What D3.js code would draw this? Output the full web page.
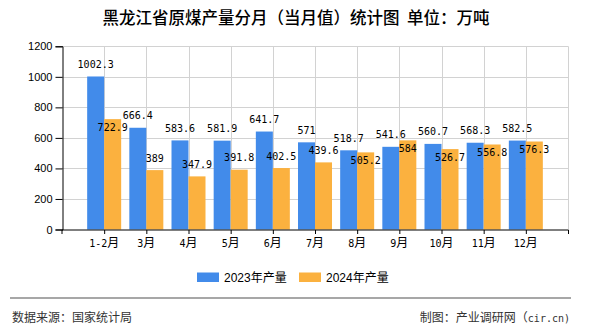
<!DOCTYPE html>
<html>
<head>
<meta charset="utf-8">
<script src="https://cdn.jsdelivr.net/npm/d3@7"></script>
<style>
  html, body { margin: 0; padding: 0; background: #fff; }
  svg { display: block; }
</style>
</head>
<body>
<svg id="chart" width="590" height="330"></svg>
<script>
const categories = ["1-2月", "3月", "4月", "5月", "6月", "7月", "8月", "9月", "10月", "11月", "12月"];
const values2023 = [1002.3, 666.4, 583.6, 581.9, 641.7, 571, 518.7, 541.6, 560.7, 568.3, 582.5];
const values2024 = [722.9, 389, 347.9, 391.8, 402.5, 439.6, 505.2, 584, 526.7, 556.8, 576.3];
const seriesNames = ["2023年产量", "2024年产量"];
const yTicks = [0, 200, 400, 600, 800, 1000, 1200];
const titleText = "黑龙江省原煤产量分月（当月值）统计图\u00a0\u00a0单位：万吨";
const sourceText = "数据来源：国家统计局";

const colors = ["#428BEA", "#FBB13F"];
const svg = d3.select("#chart");
const L = 62, R = 568, T = 46.3, B = 229.5;
const barW = 17;
const mono = "'DejaVu Sans Mono', monospace";
const cjk = "'Noto Sans CJK SC', sans-serif";

const x = d3.scalePoint().domain(categories).range([L, R]).padding(1);
const y = d3.scaleLinear().domain([0, 1200]).range([B, T]);

// grid
const grid = svg.append("g").attr("stroke", "#d2d2d2").attr("stroke-width", 1);
yTicks.filter(d => d > 0).forEach(t => {
  grid.append("line").attr("x1", L).attr("x2", R).attr("y1", Math.round(y(t)) + 0.5).attr("y2", Math.round(y(t)) + 0.5);
});
categories.forEach(c => {
  grid.append("line").attr("x1", Math.round(x(c)) + 0.5).attr("x2", Math.round(x(c)) + 0.5).attr("y1", T).attr("y2", B);
});
grid.append("line").attr("x1", R + 0.5).attr("x2", R + 0.5).attr("y1", T).attr("y2", B);

// bars
const bars = svg.append("g");
bars.selectAll("rect.b23").data(values2023).join("rect")
  .attr("x", (d, i) => x(categories[i]) - barW)
  .attr("y", d => y(d)).attr("width", barW).attr("height", d => B - y(d))
  .attr("fill", colors[0]);
bars.selectAll("rect.b24").data(values2024).join("rect")
  .attr("x", (d, i) => x(categories[i]))
  .attr("y", d => y(d)).attr("width", barW).attr("height", d => B - y(d))
  .attr("fill", colors[1]);

// axes
const yAxis = d3.axisLeft(y).tickValues(yTicks).tickSize(7).tickPadding(3).tickFormat(d3.format("d"));
const gy = svg.append("g").attr("transform", `translate(${L + 0.5},0)`).call(yAxis);
gy.select(".domain").attr("stroke", "#000");
gy.selectAll(".tick line").attr("stroke", "#000");
gy.selectAll(".tick text").attr("font-family", "'Liberation Sans', Arial, sans-serif").attr("font-size", 11).attr("fill", "#000");

const xAxis = d3.axisBottom(x).tickSize(4).tickPadding(5).tickFormat("");
const gx = svg.append("g").attr("transform", `translate(0,${B + 0.5})`).call(xAxis);
gx.select(".domain").attr("stroke", "#000").attr("d", `M${L},4V0H${R + 0.5}V4`);
gx.selectAll(".tick line").attr("stroke", "#000");
// category labels
categories.forEach(c => {
  const m = c.match(/^(.*?)(月)$/);
  const t = svg.append("text").attr("x", x(c)).attr("y", 246.5).attr("text-anchor", "middle").attr("fill", "#000");
  t.append("tspan").attr("font-family", mono).attr("font-size", 10).text(m[1]);
  t.append("tspan").attr("font-family", cjk).attr("font-size", 12).text(m[2]);
});

// value labels
const fmt = v => String(v);
const charW = 6.02;
const boxes = values2023.map((v, i) => {
  const cx = x(categories[i]) - barW / 2;
  const base = y(v) - 8.5;
  const w = fmt(v).length * charW;
  return { cx, base, x0: cx - w / 2, x1: cx + w / 2, y0: base - 10, y1: base + 2, v };
});
const labels = svg.append("g").attr("font-family", mono).attr("font-size", 10).attr("fill", "#000").attr("text-anchor", "middle");
boxes.forEach(b => labels.append("text").attr("x", b.cx).attr("y", b.base).text(fmt(b.v)));
values2024.forEach((v, i) => {
  const cx = x(categories[i]) + barW / 2;
  const w = fmt(v).length * charW;
  let base = y(v) - 8.5;
  const bx0 = cx - w / 2, bx1 = cx + w / 2, by0 = base - 10, by1 = base + 2;
  const hit = boxes.some(b => bx0 < b.x1 && bx1 > b.x0 && by0 < b.y1 && by1 > b.y0);
  if (hit) base = y(v) + 11.5;
  labels.append("text").attr("x", cx).attr("y", base).text(fmt(v));
});

// title
svg.append("text").attr("x", 296).attr("y", 24).attr("text-anchor", "middle")
  .attr("font-family", cjk).attr("font-size", 16.5).attr("font-weight", 500).attr("fill", "#000").text(titleText);

// legend
const legendX = [197, 299];
seriesNames.forEach((n, i) => {
  svg.append("rect").attr("x", legendX[i]).attr("y", 272.5).attr("width", 22).attr("height", 9.5).attr("fill", colors[i]);
  svg.append("text").attr("x", legendX[i] + 27).attr("y", 282).attr("font-family", "'Liberation Sans', Arial, " + cjk)
    .attr("font-size", 12).attr("fill", "#000").text(n);
});

// footer
svg.append("line").attr("x1", 10).attr("x2", 571).attr("y1", 298).attr("y2", 298).attr("stroke", "#8a8a8a").attr("stroke-width", 1.5);
svg.append("text").attr("x", 12).attr("y", 321.5).attr("font-family", cjk).attr("font-size", 12).attr("fill", "#333").text(sourceText);
const ft = svg.append("text").attr("x", 570).attr("y", 321.5).attr("text-anchor", "end").attr("fill", "#333");
ft.append("tspan").attr("font-family", cjk).attr("font-size", 12).text("制图：产业调研网（");
ft.append("tspan").attr("font-family", mono).attr("font-size", 10).text("cir.cn");
ft.append("tspan").attr("font-family", mono).attr("font-size", 10).text(")");
</script>
</body>
</html>
